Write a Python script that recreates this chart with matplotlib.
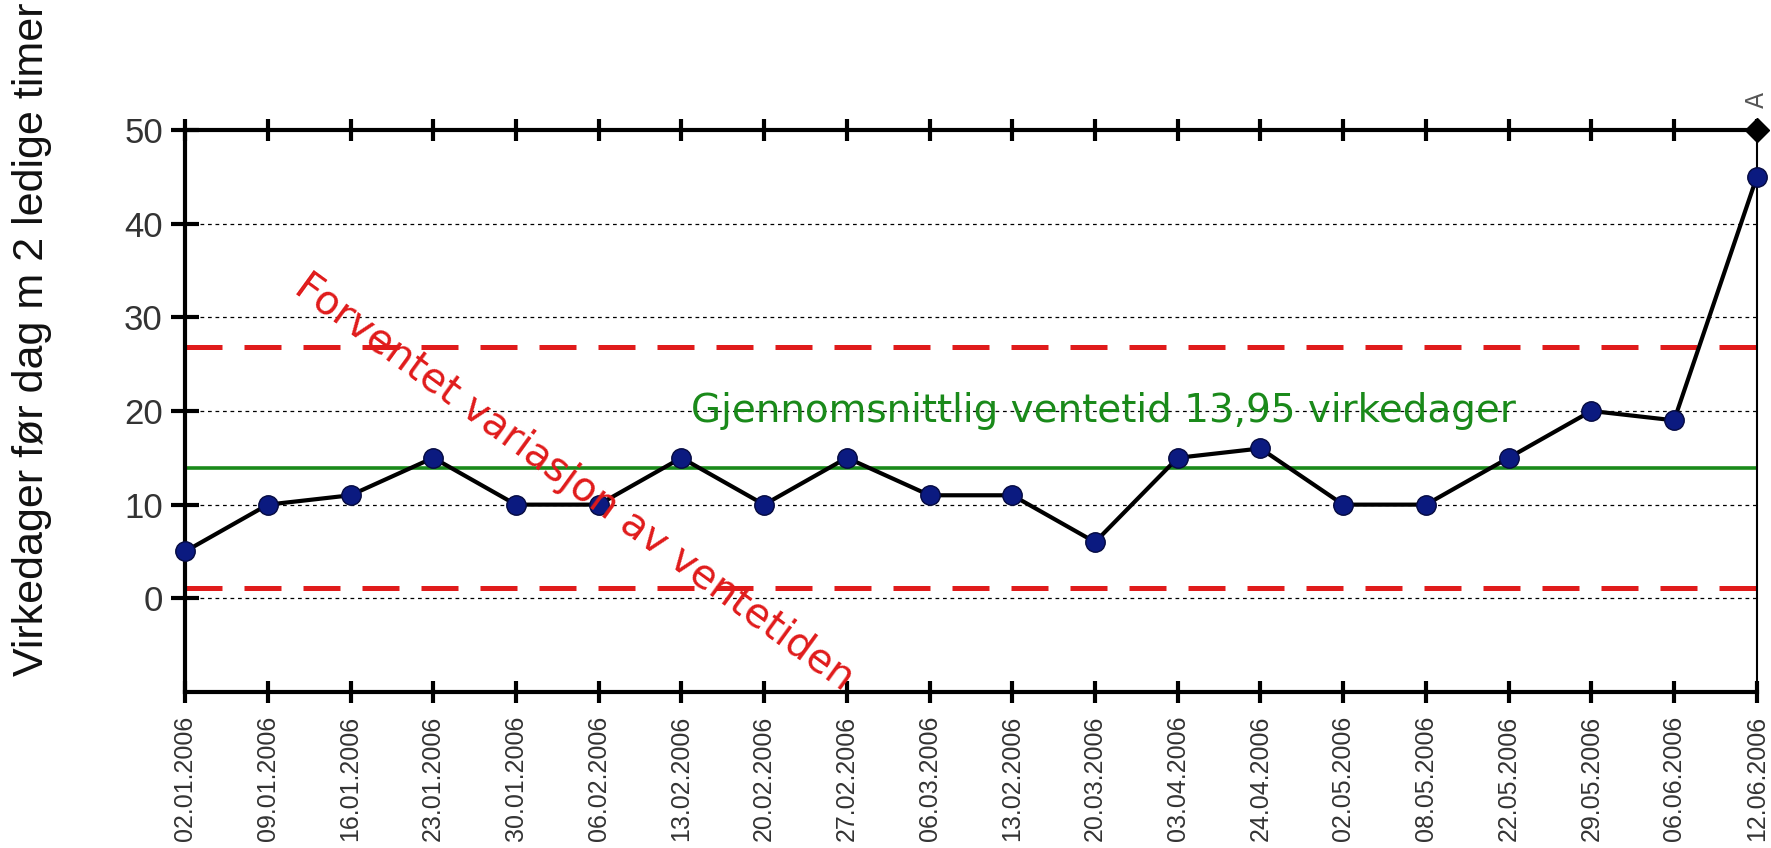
import matplotlib
matplotlib.use("Agg")
import matplotlib.pyplot as plt
import numpy as np

# weekly measurements (working days until day with 2 free hours)
dates = ["02.01.2006", "09.01.2006", "16.01.2006", "23.01.2006", "30.01.2006",
         "06.02.2006", "13.02.2006", "20.02.2006", "27.02.2006", "06.03.2006",
         "13.02.2006", "20.03.2006", "03.04.2006", "24.04.2006", "02.05.2006",
         "08.05.2006", "22.05.2006", "29.05.2006", "06.06.2006", "12.06.2006"]
days = [5, 10, 11, 15, 10, 10, 15, 10, 15, 11, 11, 6, 15, 16, 10, 10, 15, 20, 19, 45]

mean_val = 13.95
ucl = 26.8
lcl = 1.1

fig = plt.figure(figsize=(17.71, 8.48), dpi=100)
ax = fig.add_axes([0.1045, 0.184, 0.8875, 0.6627])

x = np.arange(len(days))

# gridlines
for yv in [0, 10, 20, 30, 40]:
    ax.axhline(yv, color="black", lw=0.9, linestyle=(0, (3, 3)), zorder=1)

# control limits + mean
ax.axhline(ucl, color="#e01b1b", lw=3.6, linestyle=(0, (7.4, 4.4)), zorder=2)
ax.axhline(lcl, color="#e01b1b", lw=3.6, linestyle=(0, (7.4, 4.4)), zorder=2)
ax.axhline(mean_val, color="#1a8a1a", lw=2.6, zorder=2)

ax.plot(x, days, color="black", lw=3, marker="o", markersize=14,
        markerfacecolor="#0b1a80", markeredgecolor="#050a40", zorder=4, clip_on=False)

# off-scale marker
ax.plot([19], [50], marker="D", color="black", markersize=12, clip_on=False, zorder=5)
ax.text(19, 53.2, "A", rotation=90, ha="center", va="center", fontsize=17,
        color="#555555")

ax.text(11.1, 20, "Gjennomsnittlig ventetid 13,95 virkedager", color="#1a8a1a",
        fontsize=28, ha="center", va="center", zorder=3)
ax.text(4.7, 12.3, "Forventet variasjon av ventetiden", color="#e01b1b",
        fontsize=29, ha="center", va="center", rotation=-36, zorder=6,
        rotation_mode="anchor")

ax.set_xlim(0, 19)
ax.set_ylim(-10, 50)
ax.set_yticks([0, 10, 20, 30, 40, 50])
ax.set_xticks(x)
ax.set_xticklabels(dates, rotation=90, fontsize=18, color="#333333",
                   family="Liberation Sans")
ax.tick_params(axis="y", direction="inout", length=20, width=3, labelsize=25,
               labelcolor="#333333", pad=6)
ax.tick_params(axis="x", direction="inout", length=16, width=3, top=True, pad=9)
for lab in ax.get_yticklabels():
    lab.set_family("Liberation Sans")

for s in ["left", "bottom", "top"]:
    ax.spines[s].set_linewidth(3)
ax.spines["right"].set_linewidth(1.5)

fig.text(0.018, 0.60, "Virkedager før dag m 2 ledige timer", rotation=90,
         ha="center", va="center", fontsize=31, family="Liberation Sans",
         color="#111111")

fig.savefig("out.png", dpi=100)
